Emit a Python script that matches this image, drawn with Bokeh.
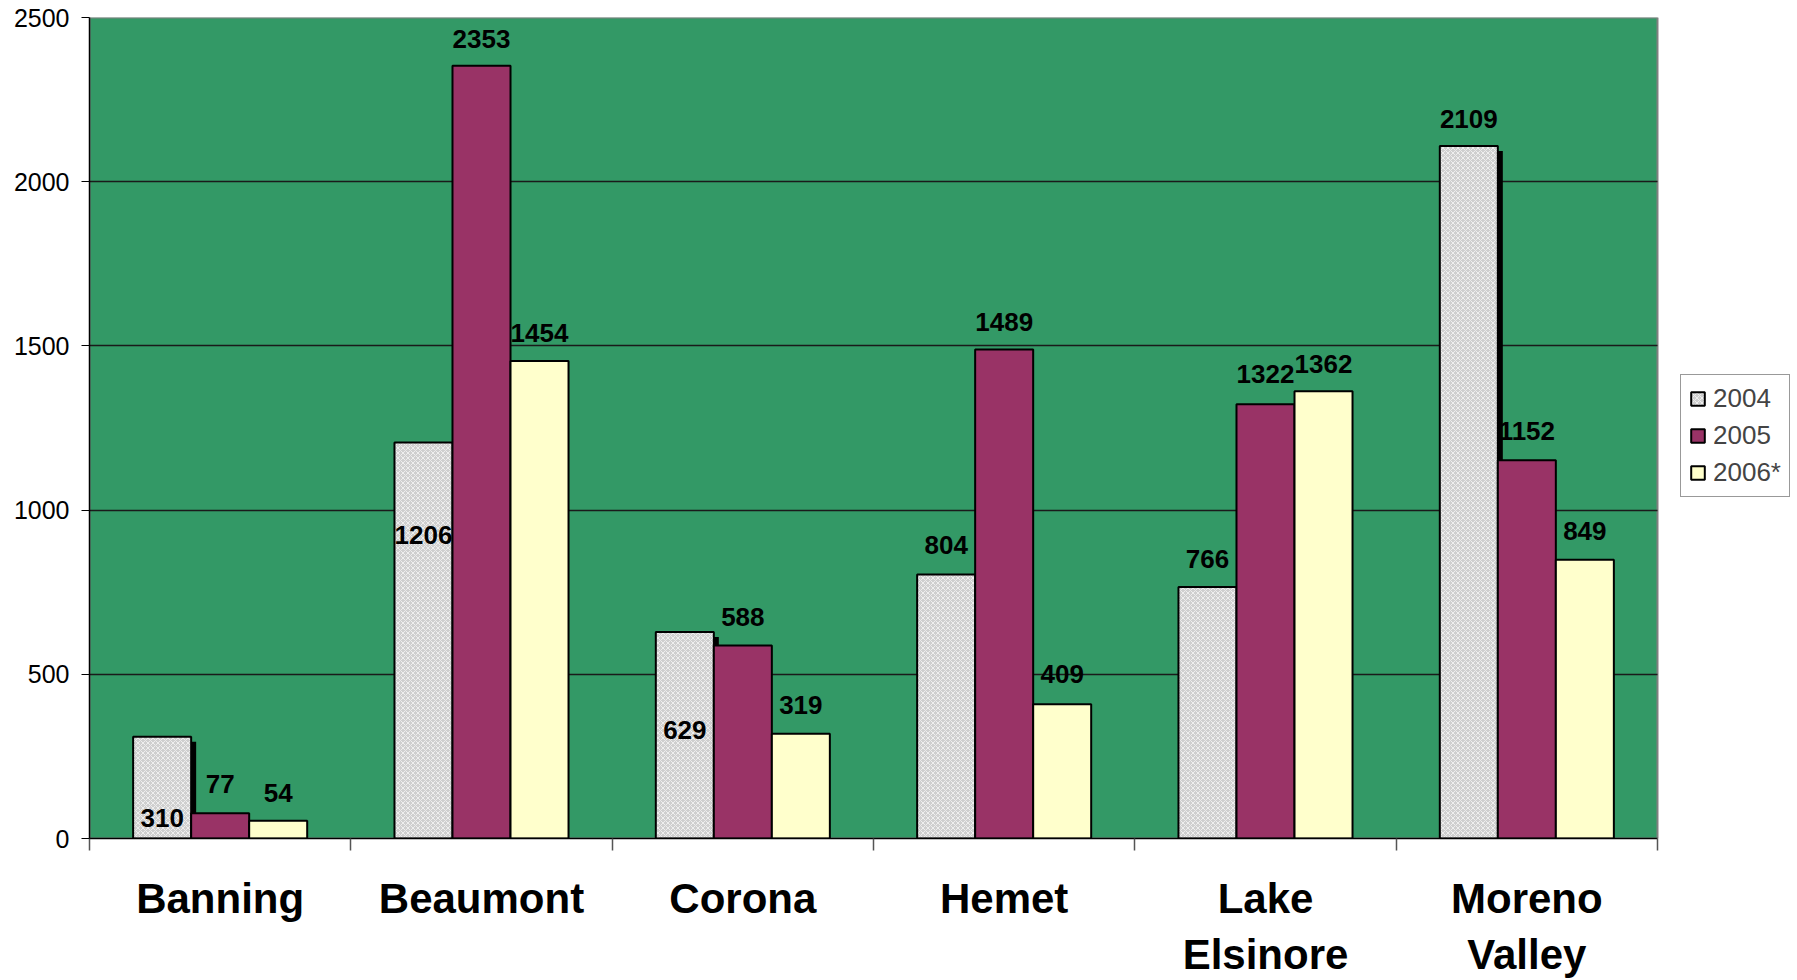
from bokeh.plotting import figure
from bokeh.models import (ColumnDataSource, FixedTicker, Legend, LegendItem, Range1d,
                          BoxAnnotation)
from bokeh.transform import dodge
from bokeh.embed import file_html
from bokeh.resources import INLINE
from bokeh.core.properties import value
import numpy as np

# ---- data ----
cities = ["Banning", "Beaumont", "Corona", "Hemet", "Lake\nElsinore", "Moreno\nValley"]
years = ["2004", "2005", "2006*"]
v2004 = [310, 1206, 629, 804, 766, 2109]
v2005 = [77, 2353, 588, 1489, 1322, 1152]
v2006 = [54, 1454, 319, 409, 1362, 849]
y_ticks = [0, 500, 1000, 1500, 2000, 2500]
Y_MAX = 2500

# label offsets in screen px (negative = above bar top)
off2004 = [81, 93, 98, -29, -28, -27]
off2005 = [-29, -27, -28, -28, -30, -29]
off2006 = [-28, -28, -29, -30, -27, -29]

PLOT_W = 1568              # width of the green plot area in px
FRAME_W = 1797 - 89        # frame extends to the right edge (room for legend)
FRAME_H = 824
N = len(cities)
px_x = N / PLOT_W          # data units per px on x
px_y = Y_MAX / FRAME_H     # data units per px on y
BW = 0.222

src = ColumnDataSource(dict(
    x=np.arange(N) + 0.5,
    v2004=v2004, v2005=v2005, v2006=v2006,
    t2004=[str(v) for v in v2004], t2005=[str(v) for v in v2005], t2006=[str(v) for v in v2006],
    o2004=off2004, o2005=off2005, o2006=off2006,
))

p = figure(width=1797, height=980, output_backend="svg", toolbar_location=None,
           x_range=Range1d(0, FRAME_W * px_x), y_range=Range1d(0, Y_MAX),
           min_border_left=89, min_border_right=0, min_border_top=17, min_border_bottom=139)

p.background_fill_color = "white"
p.border_fill_color = "white"
p.outline_line_color = None

# green plot area with grey border
p.add_layout(BoxAnnotation(left=0, right=N, bottom=0, top=Y_MAX, level="image",
                           fill_color="#339966", fill_alpha=1,
                           line_color="#808080", line_width=2, line_alpha=1))

FONT = value("Liberation Sans")
lab_kw = dict(text_font=FONT, text_font_style="bold", text_font_size="26px",
              text_align="center", text_baseline="middle", text_color="black")

# 2005 labels first (the 2004 shadow overlaps one of them)
p.text(x="x", y="v2005", text="t2005", y_offset="o2005", source=src, **lab_kw)

# shadow of 2004 bars
p.vbar(x=dodge("x", -BW + 5 * px_x), top=dodge("v2004", -5 * px_y), bottom=-200, width=BW,
       source=src, fill_color="black", line_color=None)

r04 = p.vbar(x=dodge("x", -BW), top="v2004", bottom=0, width=BW, source=src,
             fill_color="#cfcfcf", hatch_pattern="diagonal_cross", hatch_color="#efefef",
             hatch_scale=5, hatch_weight=1, line_color="black", line_width=2)
r05 = p.vbar(x="x", top="v2005", bottom=0, width=BW, source=src,
             fill_color="#993366", line_color="black", line_width=2)
r06 = p.vbar(x=dodge("x", BW), top="v2006", bottom=0, width=BW, source=src,
             fill_color="#FFFFCC", line_color="black", line_width=2)

p.text(x=dodge("x", -BW), y="v2004", text="t2004", y_offset="o2004", source=src, **lab_kw)
p.text(x=dodge("x", BW), y="v2006", text="t2006", y_offset="o2006", source=src, **lab_kw)

# grid
p.xgrid.visible = False
yg = p.ygrid[0]
yg.ticker = FixedTicker(ticks=y_ticks)
yg.grid_line_color = "#1a1a1a"
yg.grid_line_width = 1.5
if "cross_bounds" in yg.properties():
    yg.cross_bounds = (0, N)
else:
    p.add_layout(BoxAnnotation(left=N + 1.5 * px_x, level="underlay", fill_color="white",
                               fill_alpha=1, line_color=None))

# y axis
p.yaxis.ticker = FixedTicker(ticks=y_ticks, minor_ticks=[])
p.yaxis.axis_line_color = "black"
p.yaxis.axis_line_width = 1.5
p.yaxis.major_tick_line_color = "black"
p.yaxis.major_tick_out = 8
p.yaxis.major_tick_in = 0
p.yaxis.major_label_text_font = "Liberation Sans"
p.yaxis.major_label_text_font_size = "25px"
p.yaxis.major_label_text_color = "black"
p.yaxis.major_label_standoff = 12

# x axis: labels at centers, ticks at category boundaries
p.xaxis.bounds = (0, N)
p.xaxis.ticker = FixedTicker(ticks=list(np.arange(N) + 0.5), minor_ticks=list(range(N + 1)))
p.xaxis.major_label_overrides = {float(i + 0.5): c for i, c in enumerate(cities)}
p.xaxis.axis_line_color = "black"
p.xaxis.axis_line_width = 1.5
p.xaxis.major_tick_line_color = None
p.xaxis.minor_tick_line_color = "#555555"
p.xaxis.minor_tick_line_width = 1.5
p.xaxis.minor_tick_out = 12
p.xaxis.minor_tick_in = 0
p.xaxis.major_label_text_font = "Liberation Sans"
p.xaxis.major_label_text_font_style = "bold"
p.xaxis.major_label_text_font_size = "42px"
p.xaxis.major_label_text_color = "black"
p.xaxis.major_label_standoff = 24

legend = Legend(items=[LegendItem(label=years[0], renderers=[r04]),
                       LegendItem(label=years[1], renderers=[r05]),
                       LegendItem(label=years[2], renderers=[r06])],
                location=(1680 - 89, 841 - 500),
                label_text_font="Liberation Sans", label_text_font_size="26px",
                glyph_width=17, glyph_height=17, label_standoff=7, padding=8,
                spacing=6, label_height=30, margin=0,
                border_line_color="#333333", border_line_width=1,
                background_fill_color="white", background_fill_alpha=1)
p.add_layout(legend, "center")

open("out.html", "w").write(file_html(p, INLINE))
